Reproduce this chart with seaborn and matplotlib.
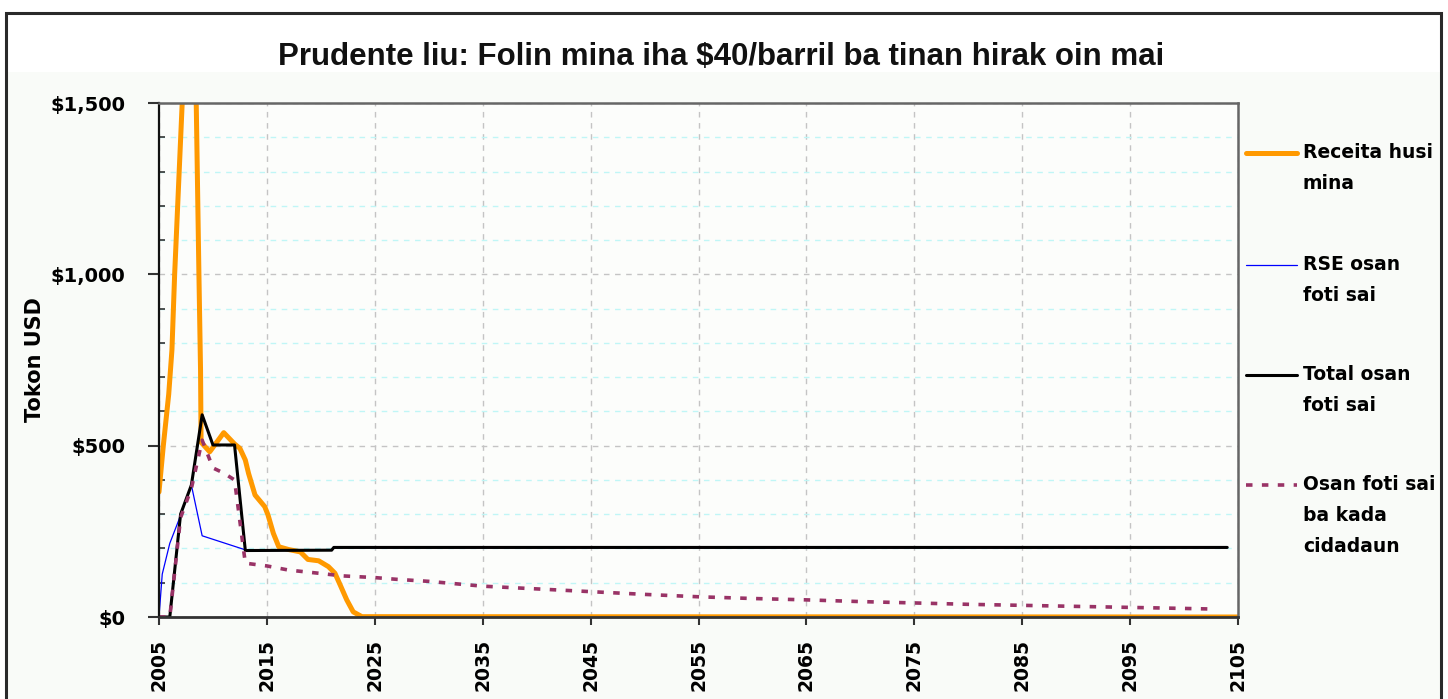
import matplotlib
matplotlib.use("Agg")
import matplotlib.pyplot as plt
from matplotlib.lines import Line2D
from matplotlib.patches import Rectangle
from matplotlib.ticker import MultipleLocator, FixedLocator, FuncFormatter
import seaborn as sns

# ── data (USD millions) ──
REV_YEARS = [2005.0, 2005.4, 2005.9, 2006.2, 2006.45, 2006.8, 2007.15, 2007.9, 2008.45,
             2008.7, 2008.85, 2008.9, 2009.7, 2011.0, 2012.0, 2012.5, 2013.0, 2013.3,
             2013.9, 2014.8, 2015.1, 2015.6, 2016.1, 2017.0, 2018.1, 2018.8, 2019.8,
             2020.7, 2021.3, 2021.8, 2022.4, 2023.0, 2023.8, 2105.0]
REV_VALS = [365, 500, 650, 780, 1000, 1250, 1500, 2000, 1500,
            1000, 720, 510, 482, 538, 505, 492, 458, 419,
            356, 322, 298, 244, 205, 197, 190, 168, 164,
            147, 128, 93, 50, 15, 1, 0]

RSE_YEARS = [2005.0, 2005.3, 2006.0, 2006.8, 2008.0, 2009.0, 2013.0]
RSE_VALS = [0, 125, 215, 280, 385, 237, 196]

TOT_YEARS = [2005, 2006, 2007, 2008, 2009, 2010, 2011, 2012, 2013, 2021, 2021.2, 2104]
TOT_VALS = [0, 0, 300, 385, 590, 502, 502, 502, 194, 195, 203, 203]

CAP_YEARS = [2005, 2006, 2007, 2008, 2009, 2010, 2011, 2012, 2013, 2015, 2017, 2020,
             2022, 2025, 2027, 2030, 2035, 2040, 2045, 2050, 2055, 2060, 2065, 2070,
             2075, 2080, 2085, 2090, 2095, 2100, 2103]
CAP_VALS = [0, 0, 290, 375, 516, 435, 420, 400, 157, 149, 137, 127,
            120, 115, 110, 104, 90, 82, 74, 66, 59, 54, 50, 45,
            41, 37, 34, 31, 28, 25, 23]

YEAR_TICKS = list(range(2005, 2106, 10))
LABELS = ["Receita husi\nmina", "RSE osan\nfoti sai", "Total osan\nfoti sai",
          "Osan foti sai\nba kada\ncidadaun"]
TITLE = "Prudente liu: Folin mina iha $40/barril ba tinan hirak oin mai"

sns.set_theme(style="ticks")
plt.rcParams["font.family"] = ["DejaVu Sans"]

W, H = 1448, 699
fig = plt.figure(figsize=(W / 100, H / 100), dpi=100, facecolor="white")

# background band + outer frame
fig.add_artist(Rectangle((6 / W, 0), (1441 - 6) / W, 1 - 72 / H, transform=fig.transFigure,
                         facecolor="#f9fbf8", edgecolor="none", zorder=-5))
fig.add_artist(Rectangle((6 / W, -0.05), (1441 - 6) / W, 1.05 - 13 / H, transform=fig.transFigure,
                         fill=False, edgecolor="#2a2a2a", lw=2.2, zorder=10))

ax = fig.add_axes([159 / W, 1 - 617 / H, (1238 - 159) / W, (617 - 103) / H])
ax.set_facecolor("#fcfdfb")

styles = [
    (REV_YEARS, REV_VALS, dict(color="#ff9900", lw=3.6)),
    (RSE_YEARS, RSE_VALS, dict(color="#0000ff", lw=0.9)),
    (TOT_YEARS, TOT_VALS, dict(color="black", lw=2.2)),
    (CAP_YEARS, CAP_VALS, dict(color="#993366", lw=2.6, linestyle=(0, (1.8, 2.6)))),
]
for xs, ys, kw in styles:
    sns.lineplot(x=xs, y=ys, ax=ax, estimator=None, sort=False, legend=False, **kw)

ax.set_xlim(2005, 2105)
ax.set_ylim(0, 1500)
ax.xaxis.set_major_locator(FixedLocator(YEAR_TICKS))
ax.yaxis.set_major_locator(MultipleLocator(500))
ax.yaxis.set_minor_locator(MultipleLocator(100))
ax.yaxis.set_major_formatter(FuncFormatter(lambda v, p: f"${v:,.0f}"))
ax.xaxis.set_major_formatter(FuncFormatter(lambda v, p: f"{v:.0f}"))

ax.grid(False)
ax.grid(True, axis="x", which="major", color="#c4c4c4", ls=(0, (4, 4)), lw=1.0, zorder=0)
ax.grid(True, axis="y", which="major", color="#c4c4c4", ls=(0, (4, 4)), lw=1.0, zorder=0)
ax.grid(True, axis="y", which="minor", color="#c0f6f6", ls=(0, (4, 4)), lw=1.0, zorder=0)
ax.set_axisbelow(True)

ax.tick_params(axis="x", which="major", direction="out", length=6, width=1.5, color="#333",
               pad=10, labelrotation=90, labelsize=13.5)
ax.tick_params(axis="y", which="major", direction="out", length=8, width=1.5, color="#333",
               pad=16, labelsize=14)
ax.tick_params(axis="y", which="minor", direction="in", length=4, width=1.2, color="#333")
for t in ax.get_xticklabels() + ax.get_yticklabels():
    t.set_fontweight("bold")
    t.set_color("black")

for side, col, lw in [("left", "#111", 1.6), ("bottom", "#333", 2.0),
                      ("top", "#666", 1.8), ("right", "#666", 1.8)]:
    ax.spines[side].set_visible(True)
    ax.spines[side].set_color(col)
    ax.spines[side].set_linewidth(lw)

ax.set_xlabel("")
ax.set_ylabel("Tokon USD", fontsize=15, fontweight="bold", color="black", labelpad=4)

fig.text(721 / W, 1 - 57 / H, TITLE, ha="center", va="center", fontsize=22.5,
         fontweight="bold", family="Liberation Sans", color="#111")

# legend, drawn as in the source (handle beside the first text line)
entry_y = [153, 265, 375, 485]
for (xs, ys, kw), lab, y in zip(styles, LABELS, entry_y):
    fy = 1 - y / H
    fig.add_artist(Line2D([1246 / W, 1297 / W], [fy, fy], transform=fig.transFigure, **kw))
    fig.text(1303 / W, fy + 10 / H, lab, ha="left", va="top", fontsize=13.5,
             fontweight="bold", color="black", linespacing=1.8)

fig.savefig("out.png", dpi=100, facecolor="white")
